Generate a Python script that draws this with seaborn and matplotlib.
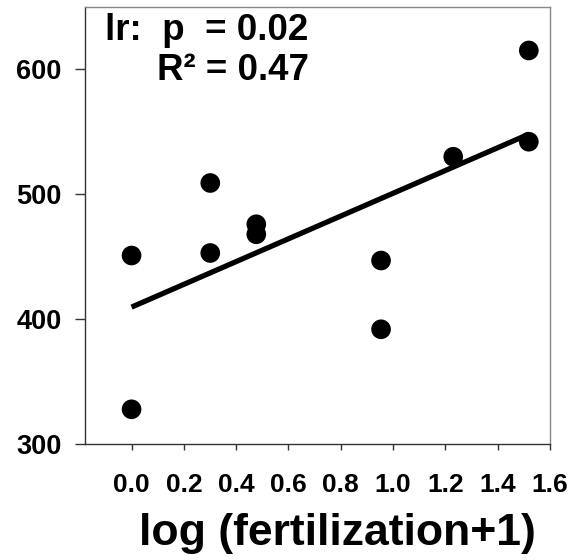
import matplotlib
matplotlib.use("Agg")
import matplotlib.pyplot as plt
import seaborn as sns
import numpy as np
import pandas as pd

x_vals = [0.0, 0.0, 0.301, 0.301, 0.477, 0.477, 0.954, 0.954, 1.230, 1.519, 1.519]
y_vals = [451, 328, 453, 509, 476, 468, 447, 392, 530, 615, 542]
x_ticks = [0.0, 0.2, 0.4, 0.6, 0.8, 1.0, 1.2, 1.4, 1.6]
y_ticks = [300, 400, 500, 600]
x_label = "log (fertilization+1)"
stat_line1 = "lr:  p  = 0.02"
stat_line2 = "R² = 0.47"

sns.set_style("white")
plt.rcParams['font.family'] = ['Liberation Sans', 'DejaVu Sans']
plt.rcParams['text.color'] = 'black'
plt.rcParams['xtick.color'] = 'black'
plt.rcParams['ytick.color'] = 'black'
plt.rcParams['axes.labelcolor'] = 'black'

df = pd.DataFrame({"x": x_vals, "y": y_vals})

fig = plt.figure(figsize=(5.72, 5.60), dpi=100)
ax = fig.add_axes([85/572, 1-444.3/560, 465/572, 437.6/560])

sns.regplot(data=df, x="x", y="y", ax=ax, ci=None, color="black",
            scatter_kws={"s": 200, "edgecolor": "none", "alpha": 1, "zorder": 3},
            line_kws={"linewidth": 3.8, "solid_capstyle": "butt"})

ax.set_xlim(-0.178, 1.6)
ax.set_ylim(300, 650)
ax.set_xticks(x_ticks)
ax.set_yticks(y_ticks)
ax.set_xticklabels([f"{t:.1f}" for t in x_ticks], fontsize=19, fontweight="bold")
ax.set_yticklabels([str(t) for t in y_ticks], fontsize=19.5, fontweight="bold")
ax.tick_params(axis="x", direction="out", length=4.5, width=1, pad=16, bottom=True, color="#333333")
ax.tick_params(axis="y", direction="out", length=7, width=1, pad=10, left=True, color="#333333")

ax.set_xlabel(x_label, fontsize=32, fontweight="bold", va="center")
ax.xaxis.set_label_coords((337-85)/465, (444.3-534)/437.6)
ax.set_ylabel("")

for side in ["left", "bottom"]:
    ax.spines[side].set_color("#333333")
    ax.spines[side].set_linewidth(1.0)
for side in ["top", "right"]:
    ax.spines[side].set_color("#888888")
    ax.spines[side].set_linewidth(1.0)

ax.text((105-85)/465, (444.3-40)/437.6, stat_line1, transform=ax.transAxes,
        fontsize=26.5, fontweight="bold", va="baseline", ha="left")
ax.text((157-85)/465, (444.3-80)/437.6, stat_line2, transform=ax.transAxes,
        fontsize=26.5, fontweight="bold", va="baseline", ha="left")

fig.savefig("out.png", dpi=100)
